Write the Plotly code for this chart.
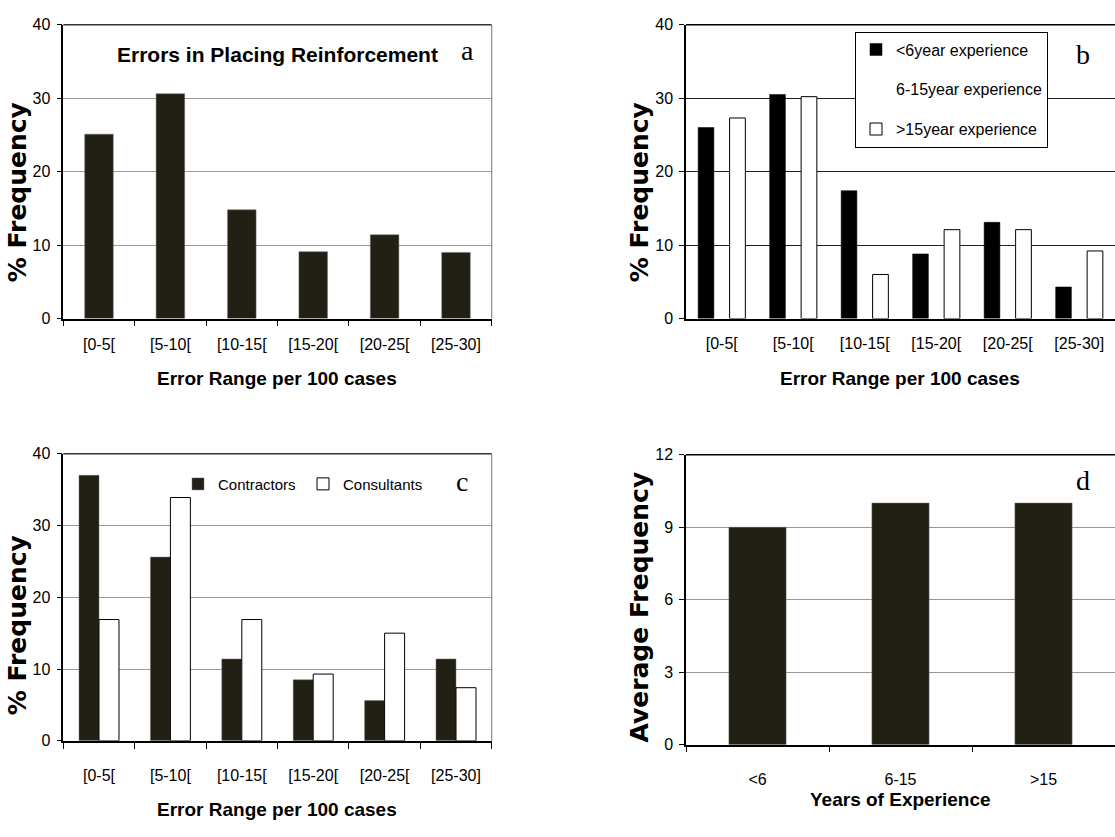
import plotly.graph_objects as go

# ---------------- data ----------------
ranges = ["[0-5[", "[5-10[", "[10-15[", "[15-20[", "[20-25[", "[25-30]"]
freq_a = [25.1, 30.6, 14.8, 9.1, 11.4, 9.0]

lt6 = [26.0, 30.5, 17.4, 8.8, 13.1, 4.3]
mid = [0, 0, 0, 0, 0, 0]
gt15 = [27.3, 30.2, 6.0, 12.1, 12.1, 9.2]

contractors = [37.0, 25.6, 11.4, 8.5, 5.6, 11.4]
consultants = [16.9, 33.9, 16.9, 9.3, 15.0, 7.4]

years = ["<6", "6-15", ">15"]
avg_freq = [9, 10, 10]

W, H = 1115, 837
SANS = "Liberation Sans, Arial, sans-serif"
WIDE = "DejaVu Sans, Verdana, sans-serif"
SERIF = "Liberation Serif, Times New Roman, serif"
DARK = "#221f14"

def px(x):
    return x / W

def py(y):
    return 1 - y / H

fig = go.Figure()

# panel a
fig.add_trace(go.Bar(x=ranges, y=freq_a, xaxis="x", yaxis="y", width=0.4,
                     marker=dict(color=DARK, line=dict(color="#6f6f6f", width=0.5)),
                     showlegend=False))
# panel b
fig.add_trace(go.Bar(x=ranges, y=lt6, xaxis="x2", yaxis="y2", width=0.22, offset=-0.33,
                     name="<6year experience", legend="legend", legendgroup="g1",
                     marker=dict(color="#000000", line=dict(color="#000000", width=0.5))))
fig.add_trace(go.Bar(x=ranges, y=mid, xaxis="x2", yaxis="y2", width=0.22, offset=-0.11,
                     name="6-15year experience", legend="legend", legendgroup="g2",
                     marker=dict(color="rgba(255,255,255,0)", line=dict(color="rgba(0,0,0,0)", width=0))))
fig.add_trace(go.Bar(x=ranges, y=gt15, xaxis="x2", yaxis="y2", width=0.22, offset=0.11,
                     name=">15year experience", legend="legend", legendgroup="g3",
                     marker=dict(color="#ffffff", line=dict(color="#000000", width=1))))
# panel c
fig.add_trace(go.Bar(x=ranges, y=contractors, xaxis="x3", yaxis="y3", width=0.28, offset=-0.28,
                     name="Contractors", legend="legend2",
                     marker=dict(color=DARK, line=dict(color="#6f6f6f", width=0.5))))
fig.add_trace(go.Bar(x=ranges, y=consultants, xaxis="x3", yaxis="y3", width=0.28, offset=0.0,
                     name="Consultants", legend="legend2",
                     marker=dict(color="#ffffff", line=dict(color="#000000", width=1))))
# panel d
fig.add_trace(go.Bar(x=years, y=avg_freq, xaxis="x4", yaxis="y4", width=0.4,
                     marker=dict(color=DARK, line=dict(color="#6f6f6f", width=0.5)),
                     showlegend=False))

dom_left = [px(63.3), px(491.7)]
dom_right = [px(686), 1.0]
dom_top = [py(317), py(17)]
dom_c = [py(748), py(455)]
dom_d = [py(752), py(456)]

tickfont = dict(family=SANS, size=16, color="#000")

def xaxis(domain, anchor, standoff, ticks=True):
    return dict(domain=domain, anchor=anchor, type="category",
                showline=True, linecolor="#000", linewidth=1.5,
                ticks="outside" if ticks else "", tickson="boundaries",
                ticklen=6, tickcolor="#000", tickwidth=1,
                ticklabelstandoff=standoff,
                showgrid=False, tickfont=tickfont, fixedrange=True)

def yaxis(domain, anchor, rng, dtick, gridcolor):
    return dict(domain=domain, anchor=anchor, range=rng, dtick=dtick,
                showline=True, linecolor="#000", linewidth=1.5,
                ticks="outside", ticklen=5, tickcolor="#000", tickwidth=1,
                ticklabelstandoff=3,
                showgrid=True, gridcolor=gridcolor, gridwidth=1,
                zeroline=False, tickfont=tickfont, fixedrange=True)

fig.update_layout(
    width=W, height=H,
    margin=dict(l=0, r=0, t=0, b=0),
    paper_bgcolor="white", plot_bgcolor="white",
    barmode="overlay",
    font=dict(family=SANS, color="#000"),
    xaxis=xaxis(dom_left, "y", 10),
    yaxis=yaxis(dom_top, "x", [0, 40], 10, "#999999"),
    xaxis2=xaxis(dom_right, "y2", 9, ticks=False),
    yaxis2=yaxis(dom_top, "x2", [0, 40], 10, "#222222"),
    xaxis3=xaxis(dom_left, "y3", 19),
    yaxis3=yaxis(dom_c, "x3", [0, 40], 10, "#999999"),
    xaxis4=xaxis(dom_right, "y4", 19),
    yaxis4=yaxis(dom_d, "x4", [0, 12], 3, "#999999"),
    legend=dict(x=px(855), y=py(24), xanchor="left", yanchor="top",
                bgcolor="white", bordercolor="#000", borderwidth=1,
                font=dict(family=SANS, size=16, color="#000"),
                traceorder="grouped", tracegroupgap=16,
                itemwidth=30, itemclick=False, itemdoubleclick=False),
    legend2=dict(x=px(178), y=py(486), xanchor="left", yanchor="middle",
                 orientation="h", bgcolor="rgba(0,0,0,0)", borderwidth=0,
                 entrywidth=80, entrywidthmode="pixels",
                 font=dict(family=SANS, size=15, color="#000"),
                 itemwidth=30, itemclick=False, itemdoubleclick=False),
)

# frame borders (top / right)
def frame(xr, yr, topc, rightc):
    fig.add_shape(type="line", xref=f"{xr} domain", yref=f"{yr} domain",
                  x0=0, x1=1, y0=1, y1=1, line=dict(color=topc, width=1.5))
    if rightc:
        fig.add_shape(type="line", xref=f"{xr} domain", yref=f"{yr} domain",
                      x0=1, x1=1, y0=0, y1=1, line=dict(color=rightc, width=1.2))

frame("x", "y", "#333333", "#8a8a8a")
frame("x2", "y2", "#000000", None)
frame("x3", "y3", "#333333", "#8a8a8a")
frame("x4", "y4", "#000000", None)

def ann(text, x, y, size, family, bold=False, angle=0):
    fig.add_annotation(text=f"<b>{text}</b>" if bold else text,
                       x=px(x), y=py(y), xref="paper", yref="paper",
                       showarrow=False, textangle=angle,
                       font=dict(family=family, size=size, color="#000"),
                       xanchor="center", yanchor="middle")

# titles / panel letters
ann("Errors in Placing Reinforcement", 277, 47, 21, SANS, bold=True)
ann("a", 467, 43, 28, SERIF)
ann("b", 1083, 47, 28, SERIF)
ann("c", 462, 483, 28, SERIF)
ann("d", 1083, 482, 28, SERIF)

# y axis titles
ann("% Frequency", 17, 188, 25, WIDE, bold=True, angle=-90)
ann("% Frequency", 639, 188, 25, WIDE, bold=True, angle=-90)
ann("% Frequency", 17, 630, 25, WIDE, bold=True, angle=-90)
ann("Average Frequency", 640, 612, 25, WIDE, bold=True, angle=-90)

# x axis titles
ann("Error Range per 100 cases", 277, 378, 19, SANS, bold=True)
ann("Error Range per 100 cases", 900, 378, 19, SANS, bold=True)
ann("Error Range per 100 cases", 277, 818, 19, SANS, bold=True)
ann("Years of Experience", 900, 808, 19, SANS, bold=True)

fig.write_html("out.html")
